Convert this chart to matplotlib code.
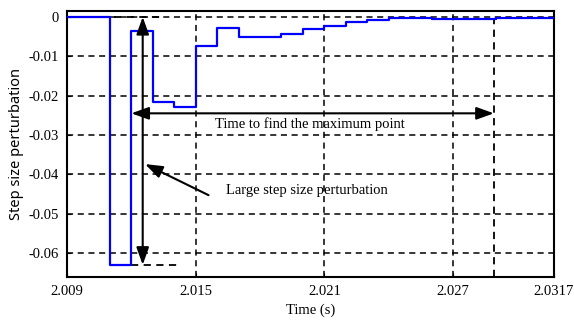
import matplotlib.pyplot as plt

# datos de la curva (escalones)
t = [2.009, 2.011, 2.012, 2.013, 2.014, 2.015, 2.016, 2.017, 2.019, 2.020,
     2.021, 2.022, 2.023, 2.024, 2.026, 2.029, 2.0317]
v = [0, -0.063, -0.0035, -0.0215, -0.023, -0.0075, -0.0029, -0.0052, -0.0043,
     -0.0031, -0.0022, -0.0014, -0.0008, -0.0004, -0.0006, -0.0003, -0.0003]

xticks = [2.009, 2.015, 2.021, 2.027, 2.0317]
xtick_labels = ['2.009', '2.015', '2.021', '2.027', '2.0317']
yticks = [0, -0.01, -0.02, -0.03, -0.04, -0.05, -0.06]
ytick_labels = ['0', '-0.01', '-0.02', '-0.03', '-0.04', '-0.05', '-0.06']

plt.rcParams['font.family'] = ['Liberation Serif', 'DejaVu Serif']

fig = plt.figure(figsize=(5.74, 3.24), dpi=100)
ax = fig.add_axes([0.1167, 0.145, 0.8483, 0.821])

ax.step(t, v, where='post', color='#0000ff', linewidth=1.6, zorder=3)

ax.set_xlim(2.009, 2.0317)
ax.set_ylim(-0.0661, 0.0015)
ax.set_xticks(xticks)
ax.set_xticklabels(xtick_labels)
ax.set_yticks(yticks)
ax.set_yticklabels(ytick_labels)
ax.tick_params(direction='in', length=3, labelsize=10.5, pad=6)

ax.grid(True, color='black', linestyle=(0, (4, 3)), linewidth=1.1)
for s in ax.spines.values():
    s.set_linewidth(1.5)

# lineas auxiliares
dash = dict(color='black', linestyle=(0, (4, 3)), linewidth=1.3, zorder=2)
ax.plot([2.0112, 2.0134], [0, 0], **dash)
ax.plot([2.012, 2.0143], [-0.063, -0.063], **dash)
ax.plot([2.0289, 2.0289], [-0.0661, -0.0003], **dash)

# flechas
head = ',head_length=0.75,head_width=0.27'
arrow = dict(arrowstyle='<|-|>' + head, color='black', lw=1.5,
             mutation_scale=14, shrinkA=0, shrinkB=0)
ax.annotate('', xy=(2.01253, 0), xytext=(2.01253, -0.063), arrowprops=arrow)
ax.annotate('', xy=(2.012, -0.0245), xytext=(2.0289, -0.0245), arrowprops=arrow)
ax.annotate('', xy=(2.01264, -0.0374), xytext=(2.0156, -0.0453),
            arrowprops=dict(arrowstyle='-|>' + head, color='black', lw=1.5,
                            mutation_scale=14, shrinkA=0, shrinkB=0))

ax.text(2.0203, -0.0272, 'Time to find the maximum point', ha='center',
        va='center', fontsize=10.5)
ax.text(2.0164, -0.0442, 'Large step size perturbation', ha='left',
        va='center', fontsize=10.5)

ax.set_xlabel('Time (s)', fontsize=10.5, labelpad=4)
ax.set_ylabel('Step size perturbation', fontsize=10.5, labelpad=3,
              family=['Noto Sans', 'DejaVu Sans'])

fig.savefig('out.png', dpi=100)
